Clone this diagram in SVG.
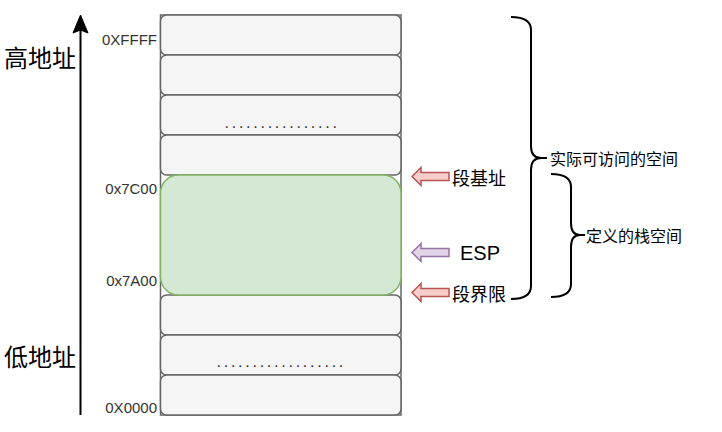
<svg xmlns="http://www.w3.org/2000/svg" width="722" height="432" viewBox="0 0 722 432">
<style>
.row{fill:#f5f5f5;stroke:#666666;stroke-width:1.5}
.frame{fill:none;stroke:#666666;stroke-width:1.5}
.addr{font-family:"Liberation Sans",Arial,sans-serif;font-size:15px;fill:#333333;text-anchor:end;dominant-baseline:central}
.cjk{font-family:"Noto Sans CJK SC","Noto Sans",sans-serif;fill:#000000;dominant-baseline:central}
.dots{font-family:"Liberation Sans",Arial,sans-serif;font-size:16px;fill:#333333;letter-spacing:2.75px;dominant-baseline:central}
.brace{fill:none;stroke:#000000;stroke-width:2;stroke-linecap:butt}
.redarrow{fill:#f8cecc;stroke:#b85450;stroke-width:1.5}
.purparrow{fill:#e1d5e7;stroke:#9673a6;stroke-width:1.5}
</style>
<defs>
<path id="blk" d="M0,0 L9,-9 L9,-4 L37,-4 L37,4 L9,4 L9,9 Z"/>
</defs>
<rect width="722" height="432" fill="#ffffff"/>

<g id="axis">
<line x1="80.5" y1="415" x2="80.5" y2="28" stroke="#000000" stroke-width="2"/>
<path d="M80.5,15 L88,33 L80.5,30 L73,33 Z" fill="#000000" stroke="#000000" stroke-width="1"/>
</g>
<g id="label-high"><text class="cjk" x="4" y="56" font-size="24">高地址</text></g>
<g id="label-low"><text class="cjk" x="4" y="355" font-size="24">低地址</text></g>

<g id="memory">
<rect class="frame" x="160.5" y="15" width="240.5" height="400"/>
<rect id="row1" class="row" x="160.5" y="15" width="240.5" height="40" rx="6"/>
<rect id="row2" class="row" x="160.5" y="55" width="240.5" height="40" rx="6"/>
<rect id="row3" class="row" x="160.5" y="95" width="240.5" height="40" rx="6"/>
<text class="dots" x="224.5" y="122">................</text>
<rect id="row4" class="row" x="160.5" y="135" width="240.5" height="40" rx="6"/>
<rect id="row6" class="row" x="160.5" y="295" width="240.5" height="40" rx="6"/>
<rect id="row7" class="row" x="160.5" y="335" width="240.5" height="40" rx="6"/>
<text class="dots" x="216.5" y="361.8">..................</text>
<rect id="row8" class="row" x="160.5" y="375" width="240.5" height="40" rx="6"/>
<rect id="stack" x="160.5" y="175" width="240.5" height="120" rx="18" fill="#d5e8d4" stroke="#82b366" stroke-width="1.5"/>
</g>

<g id="addresses">
<text class="addr" x="157" y="39">0XFFFF</text>
<text class="addr" x="157" y="188.5">0x7C00</text>
<text class="addr" x="157" y="280.5">0x7A00</text>
<text class="addr" x="157" y="407.5">0X0000</text>
</g>

<g id="connectors">
<use href="#blk" class="redarrow" x="412" y="176.5"/>
<use href="#blk" class="purparrow" x="412" y="252.5"/>
<use href="#blk" class="redarrow" x="412" y="292.5"/>
<path class="brace" d="M511,17 Q531,17 531,30 V146 Q531,158 541,158 H547 M541,158 Q531,158 531,170 V286 Q531,299 511,299"/>
<path class="brace" d="M551,174 Q571,174 571,187 V223 Q571,235 580,235 H585 M580,235 Q571,235 571,247 V284 Q571,297 551,297"/>
</g>

<g id="seg-base"><text class="cjk" x="452" y="177" font-size="18">段基址</text></g>
<g id="esp"><text x="460" y="253" font-family="'Liberation Sans',Arial,sans-serif" font-size="20" fill="#000000" dominant-baseline="central">ESP</text></g>
<g id="seg-limit"><text class="cjk" x="452" y="293" font-size="18">段界限</text></g>
<g id="accessible"><text class="cjk" x="550" y="158" font-size="16">实际可访问的空间</text></g>
<g id="stack-space"><text class="cjk" x="586" y="235" font-size="16">定义的栈空间</text></g>
</svg>
